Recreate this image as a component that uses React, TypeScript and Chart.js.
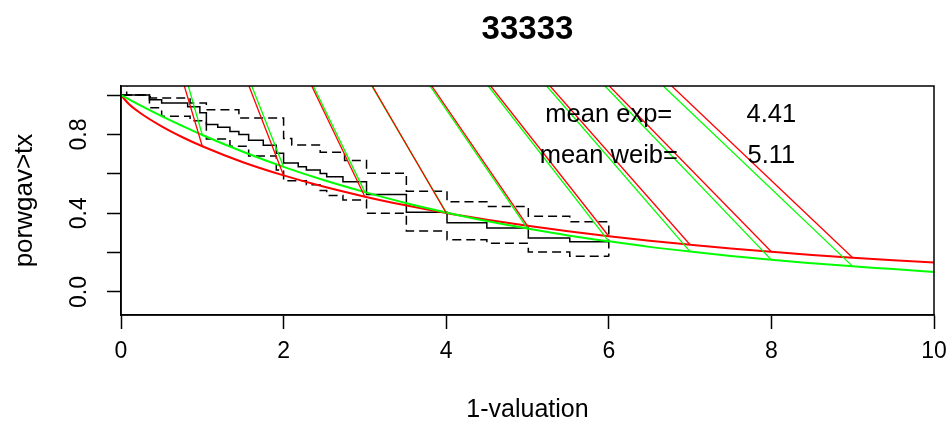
import React, { useEffect, useRef } from "react";
import { Chart, registerables } from "chart.js";

Chart.register(...registerables);

// ---- text ----
const chartTitle = "33333";
const xTitle = "1-valuation";
const yTitle = "porwgav>tx";

// ---- axes ----
const X_MIN = 0;
const X_MAX = 10;
const Y_MIN = -0.117;
const Y_MAX = 1.046;
const xTicks = [0, 2, 4, 6, 8, 10];
const yTicks = [0, 0.2, 0.4, 0.6, 0.8, 1.0];
const yTickLabels = ["0.0", "", "0.4", "", "0.8", ""];

// ---- fitted survival curves ----
const curveTimes = [0, 0.1, 0.25, 0.5, 0.75, 1, 1.5, 2, 2.5, 3, 3.5, 4, 4.5, 5, 5.5, 6, 6.5, 7, 7.5, 8, 8.5, 9, 9.5, 10];
const weibSurv = [1, 0.953, 0.905, 0.841, 0.787, 0.74, 0.659, 0.592, 0.534, 0.484, 0.44, 0.401, 0.367, 0.336, 0.308, 0.283, 0.26, 0.24, 0.221, 0.204, 0.188, 0.174, 0.161, 0.149];
const expSurv = [1, 0.978, 0.945, 0.893, 0.844, 0.797, 0.712, 0.635, 0.567, 0.507, 0.452, 0.404, 0.36, 0.322, 0.287, 0.257, 0.229, 0.205, 0.183, 0.163, 0.146, 0.13, 0.116, 0.101];

// ---- Kaplan-Meier estimate and confidence band ----
const kmTime = [0, 0.35, 0.5, 0.82, 0.97, 1.05, 1.19, 1.34, 1.45, 1.57, 1.75, 1.91, 2.0, 2.18, 2.28, 2.45, 2.53, 2.73, 3.02, 3.51, 4.01, 4.5, 5.01, 5.52, 6.0];
const kmSurv = [1.0, 0.976, 0.96, 0.94, 0.91, 0.85, 0.836, 0.815, 0.8, 0.77, 0.745, 0.705, 0.655, 0.636, 0.619, 0.602, 0.585, 0.56, 0.495, 0.405, 0.352, 0.325, 0.274, 0.255, 0.255];
const upTime = [0, 0.07, 0.36, 0.85, 1.05, 1.45, 2.0, 2.1, 2.45, 2.75, 3.02, 3.51, 4.01, 4.5, 5.01, 5.52, 6.0];
const upSurv = [1.06, 1.0, 0.985, 0.96, 0.925, 0.883, 0.78, 0.746, 0.71, 0.668, 0.603, 0.512, 0.458, 0.434, 0.385, 0.356, 0.18];
const loTime = [0, 0.35, 0.5, 0.85, 1.05, 1.34, 1.57, 1.91, 2.0, 2.28, 2.45, 2.53, 2.73, 3.02, 3.51, 4.01, 4.5, 5.01, 5.52, 6.0];
const loSurv = [1.0, 0.935, 0.893, 0.87, 0.777, 0.74, 0.69, 0.62, 0.565, 0.545, 0.515, 0.49, 0.467, 0.4, 0.31, 0.265, 0.248, 0.203, 0.181, 0.181];

// ---- sloped segments: end time on curve, x where they leave the top of the plot ----
const segEndTimes = [1, 2, 3, 4, 5, 6, 7, 8, 9];
const redSegTopX = [0.779, 1.574, 2.346, 3.091, 3.822, 4.547, 5.277, 6.006, 6.774];
const greenSegTopX = [0.828, 1.608, 2.365, 3.084, 3.801, 4.518, 5.236, 5.953, 6.67];

// ---- annotations ----
const annotLabels = ["mean exp=", "mean weib="];
const annotValues = ["4.41", "5.11"];
const annotY = [0.9, 0.69];
const annotLabelX = 6;
const annotValueX = 8;

const FONT = '"Liberation Sans", Arial, Helvetica, sans-serif';

export default function App() {
  const ref = useRef<HTMLCanvasElement>(null);

  useEffect(() => {
    document.body.style.margin = "0";
    const canvas = ref.current;
    if (!canvas) return;

    const pts = (xs: number[], ys: number[]) => xs.map((x, i) => ({ x, y: ys[i] }));
    const curveAt = (arr: number[], t: number) => arr[curveTimes.indexOf(t)];

    const segDatasets: any[] = [];
    segEndTimes.forEach((t, i) => {
      segDatasets.push({
        data: [
          { x: redSegTopX[i], y: Y_MAX },
          { x: t, y: curveAt(weibSurv, t) },
        ],
        borderColor: "#ff0000",
        borderWidth: 1.3,
        pointRadius: 0,
        fill: false,
      });
      segDatasets.push({
        data: [
          { x: greenSegTopX[i], y: Y_MAX },
          { x: t, y: curveAt(expSurv, t) },
        ],
        borderColor: "#00ff00",
        borderWidth: 1.3,
        pointRadius: 0,
        fill: false,
      });
    });

    const boxPlugin = {
      id: "rbox",
      afterDatasetsDraw(chart: any) {
        const { ctx, chartArea, scales } = chart;
        ctx.save();
        ctx.strokeStyle = "#000";
        ctx.lineWidth = 1.5;
        ctx.strokeRect(chartArea.left, chartArea.top, chartArea.right - chartArea.left, chartArea.bottom - chartArea.top);
        ctx.fillStyle = "#000";
        ctx.font = `25.5px ${FONT}`;
        ctx.textAlign = "center";
        ctx.textBaseline = "middle";
        annotLabels.forEach((lab, i) => {
          const y = scales.y.getPixelForValue(annotY[i]);
          ctx.fillText(lab, scales.x.getPixelForValue(annotLabelX), y);
          ctx.fillText(annotValues[i], scales.x.getPixelForValue(annotValueX), y);
        });
        ctx.restore();
      },
    };

    const chart = new Chart(canvas, {
      type: "line",
      data: {
        datasets: [
          ...segDatasets,
          {
            data: pts(curveTimes, expSurv),
            borderColor: "#00ff00",
            borderWidth: 2,
            pointRadius: 0,
            cubicInterpolationMode: "monotone",
            fill: false,
          },
          {
            data: pts(curveTimes, weibSurv),
            borderColor: "#ff0000",
            borderWidth: 2,
            pointRadius: 0,
            cubicInterpolationMode: "monotone",
            fill: false,
          },
          {
            data: pts(kmTime, kmSurv),
            borderColor: "#000",
            borderWidth: 1.5,
            pointRadius: 0,
            stepped: true,
            fill: false,
          },
          {
            data: pts(upTime, upSurv),
            borderColor: "#000",
            borderWidth: 1.5,
            borderDash: [9, 5],
            pointRadius: 0,
            stepped: true,
            fill: false,
          },
          {
            data: pts(loTime, loSurv),
            borderColor: "#000",
            borderWidth: 1.5,
            borderDash: [9, 5],
            pointRadius: 0,
            stepped: true,
            fill: false,
          },
        ],
      },
      options: {
        animation: false,
        responsive: false,
        events: [],
        layout: { padding: { left: 0, right: 18, top: 0, bottom: 0 } },
        plugins: {
          legend: { display: false },
          tooltip: { enabled: false },
          title: {
            display: true,
            fullSize: false,
            text: chartTitle,
            color: "#000",
            font: { family: FONT, size: 33, weight: "bold" },
            padding: { top: 10, bottom: 36.4 },
          },
        },
        scales: {
          x: {
            type: "linear",
            min: X_MIN,
            max: X_MAX,
            afterBuildTicks: (s: any) => {
              s.ticks = xTicks.map((v) => ({ value: v }));
            },
            afterFit: (s: any) => {
              s.height = 115;
              s.paddingLeft = 0;
              s.paddingRight = 0;
            },
            ticks: {
              color: "#000",
              font: { family: FONT, size: 23 },
              padding: 9,
              maxRotation: 0,
              autoSkip: false,
            },
            grid: {
              drawOnChartArea: false,
              drawTicks: true,
              tickLength: 14,
              tickColor: "#000",
              tickWidth: 1.5,
            },
            border: { display: true, color: "#000", width: 1.5 },
            title: {
              display: true,
              text: xTitle,
              color: "#000",
              font: { family: FONT, size: 25 },
              padding: { top: 0, bottom: 5 },
            },
          },
          y: {
            type: "linear",
            min: Y_MIN,
            max: Y_MAX,
            afterBuildTicks: (s: any) => {
              s.ticks = yTicks.map((v) => ({ value: v }));
            },
            afterFit: (s: any) => {
              s.width = 121;
              s.paddingTop = 0;
              s.paddingBottom = 0;
            },
            ticks: {
              callback: (_v: any, i: number) => yTickLabels[i],
              color: "#000",
              font: { family: FONT, size: 23 },
              minRotation: 90,
              maxRotation: 90,
              crossAlign: "center",
              padding: 11,
              autoSkip: false,
            },
            grid: {
              drawOnChartArea: false,
              drawTicks: true,
              tickLength: 14,
              tickColor: "#000",
              tickWidth: 1.5,
            },
            border: { display: true, color: "#000", width: 1.5 },
            title: {
              display: true,
              text: yTitle,
              color: "#000",
              font: { family: FONT, size: 26 },
              padding: { top: 9, bottom: 0 },
            },
          },
        },
      } as any,
      plugins: [boxPlugin],
    });

    return () => chart.destroy();
  }, []);

  return (
    <div style={{ width: 952, height: 430, background: "#fff" }}>
      <canvas ref={ref} width={952} height={430} style={{ display: "block" }} />
    </div>
  );
}
